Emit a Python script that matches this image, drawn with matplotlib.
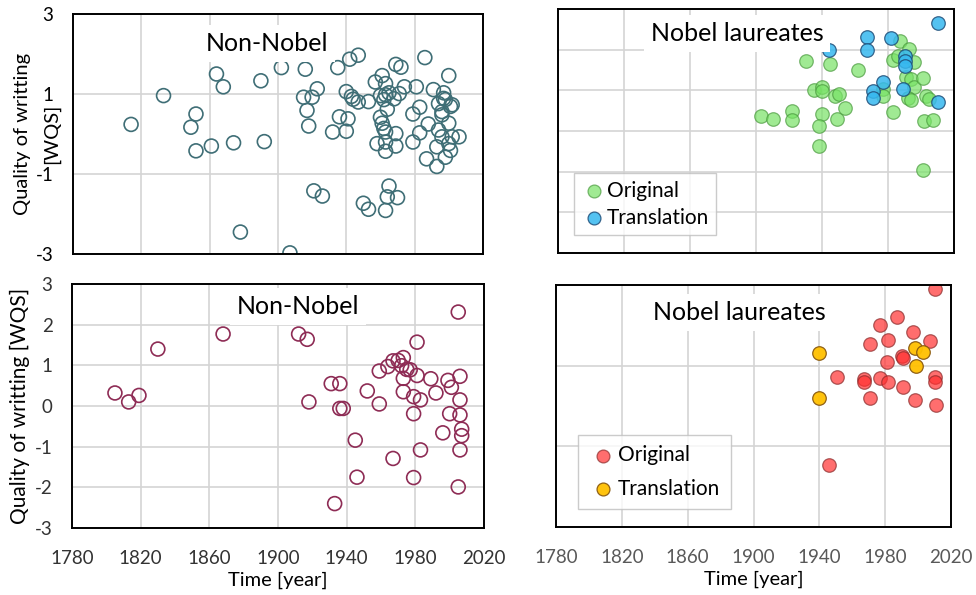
import numpy as np
import matplotlib
matplotlib.use("Agg")
import matplotlib.pyplot as plt

plt.rcParams['font.family'] = ['Lato', 'DejaVu Sans']
plt.rcParams['axes.unicode_minus'] = False

# top-left: non-nobel (teal)
nn1_year = [1814, 1833, 1852, 1849, 1852, 1861, 1864, 1868, 1874, 1878,
            1890, 1892, 1902, 1907, 1916, 1915, 1917, 1918, 1920, 1923,
            1921, 1926, 1932, 1935, 1936, 1940, 1941, 1940, 1942, 1947,
            1943, 1944, 1947, 1950, 1953, 1953, 1957, 1961, 1963, 1960,
            1962, 1963, 1965, 1968, 1964, 1960, 1961, 1962, 1963, 1969,
            1958, 1963, 1969, 1963, 1969, 1972, 1971, 1974, 1965, 1964,
            1970, 1963, 1981, 1986, 1979, 1983, 1983, 1979, 1988, 1987,
            1993, 1991, 2000, 1997, 1998, 1994, 1996, 2001, 2002, 2000,
            1994, 1996, 1993, 2000, 2002, 2006, 2001, 1998, 1997, 1996]
nn1_wqs = [0.24, 0.96, 0.50, 0.17, -0.42, -0.30, 1.50, 1.18, -0.22, -2.45,
           1.33, -0.19, 1.66, -2.97, 1.62, 0.92, 0.59, 0.20, 0.92, 1.13,
           -1.42, -1.55, 0.05, 1.66, 0.43, 1.06, 0.38, 0.07, 1.87, 1.97,
           0.94, 0.87, 0.80, -1.73, -1.88, 0.81, 1.30, 1.46, 1.26, 0.96,
           0.86, 0.98, 1.03, 0.88, 0.62, 0.42, 0.27, 0.14, 0.05, 0.01,
           -0.24, -0.20, -0.30, -0.43, 1.74, 1.67, 1.01, 1.18, -1.30, -1.57,
           -1.59, -1.91, 1.18, 1.91, 0.50, 0.67, 0.03, -0.20, 0.25, -0.62,
           -0.81, 1.11, 1.46, 1.03, 0.86, 0.76, 0.56, 0.69, 0.73, 0.27,
           0.10, -0.07, -0.32, -0.24, -0.07, -0.07, -0.41, -0.58, 0.89, 0.48]

# bottom-left: non-nobel (maroon)
nn2_year = [1805, 1813, 1819, 1830, 1868, 1912, 1917, 1918, 1931, 1936,
            1936, 1938, 1945, 1946, 1933, 1952, 1959, 1959, 1964, 1967,
            1970, 1973, 1972, 1977, 1973, 1973, 1981, 1981, 1979, 1983,
            1979, 1967, 1979, 1983, 1989, 1992, 1996, 1999, 2001, 2000,
            2006, 2006, 2006, 2007, 2007, 2006, 2005, 2005, 1975]
nn2_wqs = [0.32, 0.10, 0.26, 1.40, 1.77, 1.77, 1.64, 0.10, 0.55, 0.55,
           -0.06, -0.06, -0.84, -1.75, -2.40, 0.37, 0.86, 0.05, 0.97, 1.11,
           1.12, 1.19, 0.99, 0.89, 0.68, 0.35, 0.75, 1.57, 0.23, 0.15,
           -0.19, -1.29, -1.76, -1.08, 0.67, 0.32, -0.66, 0.63, 0.46, -0.19,
           0.73, 0.15, -0.22, -0.57, -0.73, -1.08, -1.99, 2.31, 0.90]

# top-right: nobel laureates
nb1_orig_year = [1903, 1910, 1922, 1922, 1930, 1935, 1940, 1940, 1940, 1938,
                 1938, 1945, 1948, 1950, 1949, 1954, 1962, 1977, 1977, 1983,
                 1983, 1987, 1986, 1993, 1996, 1991, 1994, 1996, 1992, 1994,
                 2001, 2003, 2005, 2002, 2007, 2001]
nb1_orig_wqs = [0.37, 0.30, 0.49, 0.26, 1.71, 1.00, 1.09, 0.99, 0.41, 0.12,
                -0.38, 1.65, 0.85, 0.90, 0.30, 0.56, 1.51, 1.04, 0.86, 0.47,
                1.75, 2.22, 1.85, 2.02, 1.69, 1.32, 1.27, 1.07, 0.80, 0.76,
                1.30, 0.86, 0.78, 0.24, 0.27, -0.95]
nb1_tr_year = [2010, 1967, 1967, 1982, 1944, 1990, 1990, 1990, 1977, 1971,
               1971, 1989, 2010]
nb1_tr_wqs = [2.66, 2.31, 1.98, 2.29, 2.00, 1.84, 1.73, 1.59, 1.21, 0.99,
              0.82, 1.04, 0.70]

# bottom-right: nobel laureates
nb2_orig_year = [2010, 1987, 1977, 1997, 1971, 1982, 2007, 1990, 1991, 1981,
                 1951, 1967, 1967, 1977, 1982, 1991, 1971, 1998, 2010, 2010,
                 2011, 1946]
nb2_orig_wqs = [2.91, 2.20, 2.01, 1.83, 1.53, 1.64, 1.62, 1.24, 1.18, 1.10,
                0.73, 0.68, 0.59, 0.70, 0.59, 0.46, 0.20, 0.15, 0.71, 0.59,
                0.02, -1.47]
nb2_tr_year = [1940, 1940, 1998, 2003, 1999]
nb2_tr_wqs = [1.31, 0.19, 1.45, 1.33, 0.98]

years = np.arange(1780, 2021, 40)

fig = plt.figure(figsize=(9.76, 5.95), dpi=100)
ax_tl = fig.add_axes([0.0748, 0.573, 0.420, 0.4035])
ax_tr = fig.add_axes([0.5717, 0.575, 0.4058, 0.410])
ax_bl = fig.add_axes([0.0738, 0.1126, 0.4221, 0.4101])
ax_br = fig.add_axes([0.5697, 0.1143, 0.4047, 0.4067])

def setup(ax, yticks, xlabels, ylabels, tickcol):
    ax.set_xlim(1780, 2020)
    ax.set_ylim(-3, 3)
    ax.set_xticks(years)
    ax.set_yticks(yticks)
    ax.grid(True, color='#d4d4d4', lw=1.2)
    ax.set_axisbelow(True)
    for s in ax.spines.values():
        s.set_color('black')
        s.set_linewidth(1.4)
        s.set_zorder(5)
    ax.tick_params(length=0, labelsize=13.5, colors=tickcol)
    ax.tick_params(axis='y', pad=14)
    ax.tick_params(axis='x', pad=16)
    if not xlabels:
        ax.set_xticklabels([])
    if not ylabels:
        ax.set_yticklabels([])

setup(ax_tl, [-3, -1, 1, 3], False, True, 'black')
setup(ax_tr, np.arange(-3, 4), False, False, 'black')
setup(ax_bl, np.arange(-3, 4), True, True, '#333333')
setup(ax_br, [-3, -1, 1, 3], True, False, '#595959')

box = dict(facecolor='white', edgecolor='none', pad=5)

ax_tl.scatter(nn1_year, nn1_wqs, s=100, facecolors='none',
              edgecolors='#3f6e76', linewidths=1.2, zorder=2)
ax_tl.text(0.473, 0.879, 'Non-Nobel', transform=ax_tl.transAxes, fontsize=18,
           ha='center', va='center', bbox=box, zorder=4)
# two-line y label: second line sits between the tick labels, like the original
ax_tl.set_ylabel('Quality of writting', fontsize=14.5, va='center')
ax_tl.yaxis.set_label_coords(-0.122, 0.5)
ax_tl.text(-0.052, 0.5, '[WQS]', transform=ax_tl.transAxes, fontsize=14.5,
           rotation=90, ha='center', va='center')

ax_bl.scatter(nn2_year, nn2_wqs, s=100, facecolors='none',
              edgecolors='#8e2c55', linewidths=1.2, zorder=2)
ax_bl.text(0.549, 0.906, 'Non-Nobel', transform=ax_bl.transAxes, fontsize=18,
           ha='center', va='center', bbox=box, zorder=4)
ax_bl.set_ylabel('Quality of writting [WQS]', fontsize=15, va='center')
ax_bl.yaxis.set_label_coords(-0.126, 0.5)
ax_bl.set_xlabel('Time [year]', fontsize=14.5, labelpad=3.5)

ax_tr.scatter(nb1_orig_year, nb1_orig_wqs, s=95, c='#78e266', alpha=0.7,
              edgecolors='#4a9a3e', linewidths=0.9, zorder=2, label='Original')
ax_tr.scatter(nb1_tr_year, nb1_tr_wqs, s=95, c='#36b8ef', alpha=0.85,
              edgecolors='#1f4e79', linewidths=0.9, zorder=3, label='Translation')
ax_tr.text(0.452, 0.90, 'Nobel laureates', transform=ax_tr.transAxes, fontsize=18,
           ha='center', va='center', bbox=box, zorder=4)
leg = ax_tr.legend(loc='lower left', bbox_to_anchor=(0.015, 0.03), fontsize=15,
                   frameon=True, fancybox=False, edgecolor='#bfbfbf',
                   handletextpad=0.0, borderpad=0.35, labelspacing=0.35,
                   handlelength=1.2, markerscale=0.95)
leg.get_frame().set_linewidth(1.0)

ax_br.scatter(nb2_orig_year, nb2_orig_wqs, s=95, c='#ff3030', alpha=0.7,
              edgecolors='#8a2a2a', linewidths=0.9, zorder=2, label='Original')
ax_br.scatter(nb2_tr_year, nb2_tr_wqs, s=95, c='#ffc000', alpha=0.95,
              edgecolors='#8a5a10', linewidths=0.9, zorder=3, label='Translation')
ax_br.text(0.463, 0.888, 'Nobel laureates', transform=ax_br.transAxes, fontsize=18,
           ha='center', va='center', bbox=box, zorder=4)
ax_br.set_xlabel('Time [year]', fontsize=14.5, labelpad=3.5)
leg = ax_br.legend(loc='lower left', bbox_to_anchor=(0.03, 0.03), fontsize=15,
                   frameon=True, fancybox=False, edgecolor='#bfbfbf',
                   handletextpad=0.0, borderpad=0.5, labelspacing=0.65,
                   handlelength=1.4, markerscale=0.95)
leg.get_frame().set_linewidth(1.0)

fig.savefig('out.png', dpi=100)
